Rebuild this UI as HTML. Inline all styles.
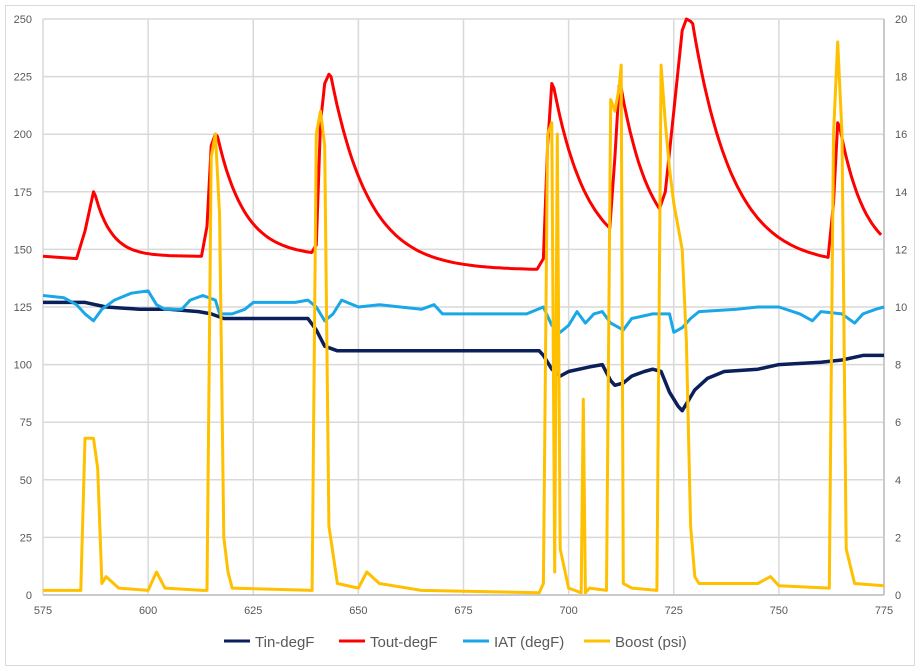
<!DOCTYPE html><html><head><style>body{margin:0;background:#fff}svg{display:block;font-family:"Liberation Sans",sans-serif}</style></head><body>
<svg id="s" width="920" height="671" xmlns="http://www.w3.org/2000/svg">
<rect x="5.5" y="5.5" width="909" height="660" fill="#fff" stroke="#d9d9d9"/>
<g id="g"></g>
<g font-size="11" fill="#595959" id="lab"></g>
<g font-size="15" fill="#595959">
<line x1="224" y1="641" x2="250" y2="641" stroke="#0b1f5a" stroke-width="3"/><text x="255" y="647">Tin-degF</text>
<line x1="339" y1="641" x2="365" y2="641" stroke="#ff0000" stroke-width="3"/><text x="370" y="647">Tout-degF</text>
<line x1="463" y1="641" x2="489" y2="641" stroke="#1aa7e8" stroke-width="3"/><text x="494" y="647">IAT (degF)</text>
<line x1="584" y1="641" x2="610" y2="641" stroke="#ffc000" stroke-width="3"/><text x="615" y="647">Boost (psi)</text>
</g>
</svg>
<script>
const X=t=>43+(t-575)*4.205,Y=v=>595-v*2.304;
const g=document.getElementById('g'),lab=document.getElementById('lab');
let h='';
for(let v=0;v<=250;v+=25){h+=`<line x1="43" x2="884" y1="${Y(v)}" y2="${Y(v)}" stroke="#d9d9d9" stroke-width="1.5"/>`;}
for(let t=575;t<=775;t+=25){h+=`<line y1="19" y2="595" x1="${X(t)}" x2="${X(t)}" stroke="#d9d9d9" stroke-width="1.5"/>`;}
h+=`<line x1="43" x2="884" y1="595" y2="595" stroke="#bfbfbf" stroke-width="1.5"/><line x1="884" x2="884" y1="19" y2="595" stroke="#bfbfbf" stroke-width="1.5"/>`;
function pl(a,c,w){let p=[];for(let i=0;i<a.length;i+=2)p.push(X(a[i]).toFixed(1)+','+Y(a[i+1]).toFixed(1));return `<polyline fill="none" stroke="${c}" stroke-width="${w}" stroke-linejoin="round" points="${p.join(' ')}"/>`;}
function dec(t0,v0,t1,base,tau){let r=[];for(let t=t0;t<=t1;t+=0.7){r.push(t,base+(v0-base)*Math.exp(-(t-t0)/tau));}return r;}
let tout=[575,147,583,146,585,158,587,175];
tout=tout.concat(dec(587.5,173,613,147,4));
tout=tout.concat([614,160,615,195,616,200]);
tout=tout.concat(dec(616.5,199,639,147,6.5));
tout=tout.concat([640,152,641,205,642,222,643,226]);
tout=tout.concat(dec(643.5,225,693,141,9));
tout=tout.concat([694,146,695,195,696,222]);
tout=tout.concat(dec(696.5,220,710,145,8));
tout=tout.concat([711,190,712,221]);
tout=tout.concat(dec(712.5,220,722,148,7));
tout=tout.concat([723,175,725,210,727,245,728,250,729,249]);
tout=tout.concat(dec(729.5,248,762,143,9.5));
tout=tout.concat([763,170,764,205]);
tout=tout.concat(dec(764.5,203,775,145,6));
const tin=[575,127,585,127,590,125,598,124,605,124,612,123,615,122,618,120,625,120,630,120,638,120,640,115,642,108,645,106,660,106,675,106,693,106,694,104,696,98,698,95,700,97,705,99,708,100,710,93,711,91,713,92,715,95,718,97,720,98,722,97,724,88,726,82,727,80,728,83,730,89,733,94,737,97,745,98,750,100,760,101,765,102,770,104,775,104];
const iat=[575,130,580,129,583,126,585,122,587,119,589,124,592,128,596,131,600,132,602,126,604,124,608,124,610,128,613,130,616,128,617,122,620,122,623,124,625,127,635,127,638,128,640,125,642,119,644,122,646,128,650,125,655,126,660,125,665,124,668,126,670,122,690,122,694,125,696,117,698,114,700,117,702,123,704,118,706,122,708,123,710,118,713,115,715,120,720,122,724,122,725,114,727,116,729,120,731,123,740,124,745,125,750,125,755,122,758,119,760,123,765,122,768,118,770,122,773,124,775,125];
const bst=[575,2,584,2,585,68,587,68,588,55,589,5,590,8,593,3,600,2,602,10,604,3,613,2,614,2,615,190,616,200,617,165,618,25,619,10,620,3,639,2,640,200,641,210,642,195,643,30,645,5,650,3,652,10,655,5,665,2,693,1,694,5,695,200,696,205,696.7,10,697.3,200,698,20,700,3,703,1,703.5,85,704,1,705,3,709,2,710,215,711,210,712,220,712.5,230,713,5,715,3,721,2,722,230,723,205,724,185,725,170,726,160,727,150,728,110,729,30,730,8,731,5,745,5,748,8,750,4,762,3,763,200,764,240,765,200,766,20,768,5,775,4];
h+=pl(tin,'#0b1f5a',3.5)+pl(tout,'#ff0000',3)+pl(iat,'#1aa7e8',3)+pl(bst,'#ffc000',3);
g.innerHTML=h;
let l='';
for(let v=0;v<=250;v+=25)l+=`<text x="32" y="${Y(v)+4}" text-anchor="end">${v}</text>`;
for(let p=0;p<=20;p+=2)l+=`<text x="895" y="${Y(p*12.5)+4}">${p}</text>`;
for(let t=575;t<=775;t+=25)l+=`<text x="${X(t)}" y="614" text-anchor="middle">${t}</text>`;
lab.innerHTML=l;
</script>
</body></html>
